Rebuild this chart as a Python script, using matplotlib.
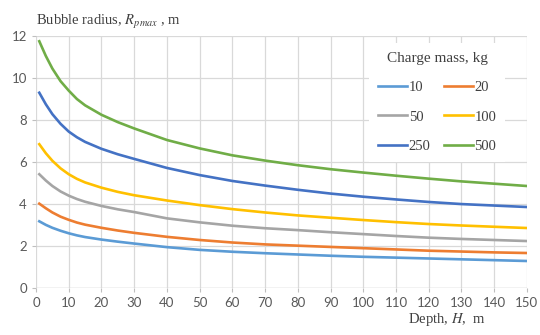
import matplotlib
matplotlib.use("Agg")
import matplotlib.pyplot as plt

depth = [1, 3, 5, 7.5, 10, 12.5, 15, 20, 25, 30, 40, 50, 60, 70, 80, 90, 100, 110, 120, 130, 140, 150]

r_10 = [3.18, 3.01, 2.87, 2.73, 2.61, 2.51, 2.43, 2.31, 2.21, 2.12, 1.95, 1.82, 1.73, 1.66, 1.60, 1.54, 1.49, 1.45, 1.41, 1.37, 1.33, 1.29]
r_20 = [4.02, 3.80, 3.60, 3.40, 3.25, 3.12, 3.02, 2.87, 2.74, 2.63, 2.44, 2.29, 2.17, 2.08, 2.02, 1.96, 1.90, 1.84, 1.78, 1.74, 1.70, 1.67]
r_50 = [5.42, 5.12, 4.86, 4.60, 4.40, 4.24, 4.11, 3.91, 3.75, 3.62, 3.32, 3.13, 2.97, 2.85, 2.76, 2.66, 2.57, 2.48, 2.40, 2.34, 2.29, 2.24]
r_100 = [6.85, 6.42, 6.06, 5.70, 5.42, 5.20, 5.03, 4.78, 4.58, 4.42, 4.17, 3.95, 3.76, 3.60, 3.46, 3.35, 3.24, 3.14, 3.05, 2.98, 2.92, 2.86]
r_250 = [9.30, 8.75, 8.28, 7.82, 7.45, 7.18, 6.96, 6.63, 6.37, 6.15, 5.72, 5.38, 5.10, 4.88, 4.68, 4.50, 4.35, 4.22, 4.10, 4.00, 3.93, 3.86]
r_500 = [11.75, 11.05, 10.45, 9.85, 9.40, 9.00, 8.70, 8.25, 7.90, 7.60, 7.05, 6.65, 6.32, 6.07, 5.85, 5.66, 5.50, 5.35, 5.21, 5.08, 4.97, 4.86]

labels = ['10', '20', '50', '100', '250', '500']
colors = ['#5B9BD5', '#ED7D31', '#A5A5A5', '#FFC000', '#4472C4', '#70AD47']
series = [r_10, r_20, r_50, r_100, r_250, r_500]

fig = plt.figure(figsize=(5.4, 3.35), dpi=100)
ax = fig.add_axes([0.0667, 0.140, 0.909, 0.7525])

lines = []
for vals, lab, c in zip(series, labels, colors):
    ln, = ax.plot(depth, vals, color=c, lw=1.9, label=lab)
    lines.append(ln)

ax.set_xlim(0, 150)
ax.set_ylim(0, 12)
ax.set_xticks(range(0, 151, 10))
ax.set_yticks(range(0, 13, 2))
ax.grid(True, color='#D9D9D9', lw=0.9)
ax.set_axisbelow(True)
for s in ax.spines.values():
    s.set_visible(False)
ax.axhline(0, color='#BFBFBF', lw=0.9, zorder=0.5)
ax.tick_params(colors='#BFBFBF', length=3, width=0.8, labelcolor='#595959',
               labelsize=9.5)
for t in ax.get_xticklabels() + ax.get_yticklabels():
    t.set_family('Lato')

fig.text(0.067, 0.925, r'Bubble radius, $R_{pmax}$ , m', fontsize=10.5,
         family='Liberation Serif', color='#404040', ha='left', va='baseline',
         math_fontfamily='stix')
fig.text(0.828, 0.036, r'Depth, $H$,  m', fontsize=10.5,
         family='Liberation Serif', color='#404040', ha='center', va='baseline',
         math_fontfamily='stix')

# row-wise order as in the reference: 10 20 / 50 100 / 250 500
order = [0, 2, 4, 1, 3, 5]
leg = ax.legend([lines[i] for i in order], [labels[i] for i in order],
                ncol=2, loc='upper right', bbox_to_anchor=(0.97, 1.0),
                title='Charge mass, kg', frameon=True, facecolor='white',
                edgecolor='none', framealpha=1, fancybox=False,
                prop={'family': 'Liberation Serif', 'size': 10.5},
                handlelength=2.0, handletextpad=0.1, columnspacing=0.9,
                labelspacing=1.1, borderpad=0.6)
leg.get_title().set_fontfamily('Liberation Serif')
leg.get_title().set_fontsize(11)
leg.get_title().set_color('#404040')
for t in leg.get_texts():
    t.set_color('#404040')

fig.savefig('out.png', dpi=100)
